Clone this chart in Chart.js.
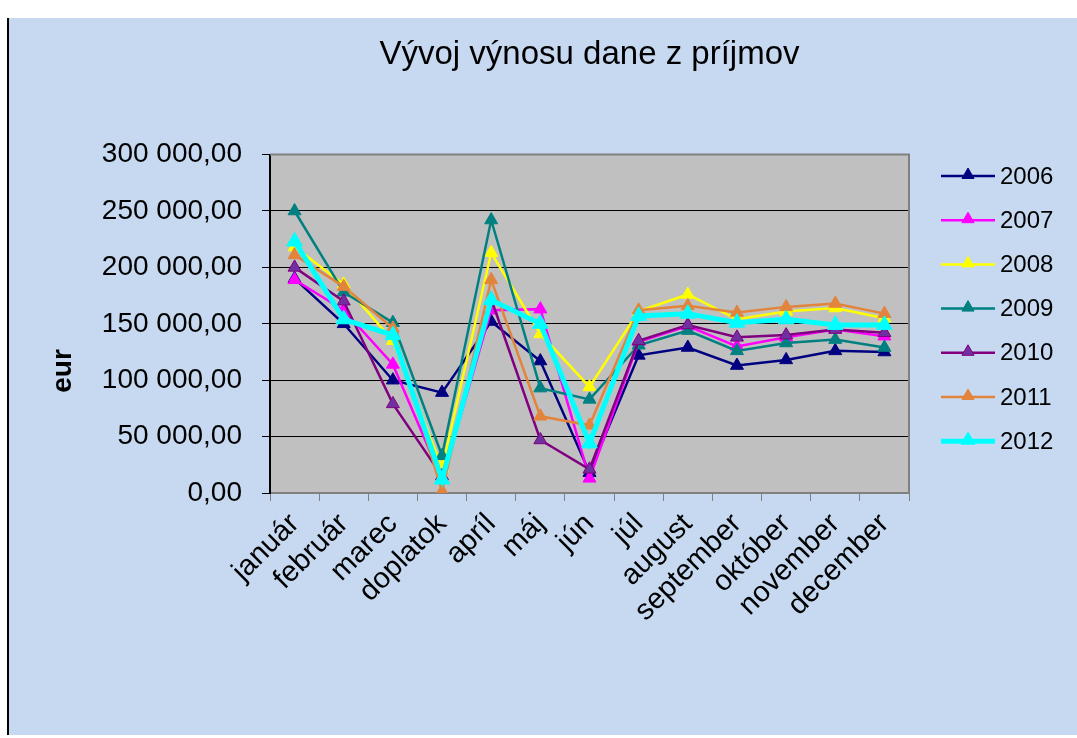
<!DOCTYPE html>
<html>
<head>
<meta charset="utf-8">
<script src="https://cdn.jsdelivr.net/npm/chart.js@4/dist/chart.umd.min.js"></script>
<style>
  html, body { margin: 0; padding: 0; background: #fff; }
  canvas { display: block; }
</style>
</head>
<body>
<canvas id="taxChart" width="1077" height="738"></canvas>
<script>
// categories and values (eur)
const months = ["január", "február", "marec", "doplatok", "apríl", "máj", "jún", "júl",
  "august", "september", "október", "november", "december"];
const years = ["2006", "2007", "2008", "2009", "2010", "2011", "2012"];

const y2006 = [190000, 150000, 100000, 89000, 152000, 117000, 18000, 122000, 129000, 113000, 118000, 126000, 125000];
const y2007 = [189000, 162000, 114000, 12000, 162000, 163000, 13000, 134000, 148000, 130000, 138000, 145000, 139000];
const y2008 = [218000, 185000, 135000, 22000, 213000, 141000, 94000, 161000, 176000, 154000, 161000, 164000, 155000];
const y2009 = [250000, 178000, 151000, 33000, 242000, 93000, 83000, 131000, 144000, 126000, 133000, 136000, 129000];
const y2010 = [200000, 170000, 79000, 15000, 172000, 47000, 21000, 135000, 149000, 138000, 140000, 145000, 142000];
const y2011 = [211000, 183000, 146000, 1500, 189000, 68000, 60000, 162000, 166000, 160000, 165000, 168000, 159000];
const y2012 = [223000, 154000, 140000, 12000, 171000, 150000, 44000, 157000, 159000, 151000, 154000, 149000, 149000];

const yTicks = [0, 50000, 100000, 150000, 200000, 250000, 300000];
const chartTitle = "Vývoj výnosu dane z príjmov";
const axisTitle = "eur";

const series = [y2006, y2007, y2008, y2009, y2010, y2011, y2012];
const lineColors = ["#000080", "#FF00FF", "#FFFF00", "#008080", "#800080", "#E3843C", "#00FFFF"];
const markerFill = ["#000080", "#FF00FF", "#FFFF00", "#008080", "#7030A0", "#E3843C", "#00FFFF"];

Chart.defaults.font.family = "'Liberation Sans', Arial, sans-serif";
Chart.defaults.color = "#000";

function fmt(v) {
  return String(v).replace(/\B(?=(\d{3})+(?!\d))/g, " ") + ",00";
}

// panel, plot background, borders, axis title and legend
const decor = {
  id: "decor",
  beforeDraw(chart) {
    const c = chart.ctx, a = chart.chartArea;
    c.save();
    c.fillStyle = "#C6D9F1";
    c.fillRect(9, 18, 1068, 717);
    c.fillStyle = "#000";
    c.fillRect(7, 18, 2, 717);
    c.fillStyle = "#C0C0C0";
    c.fillRect(a.left, a.top, a.right - a.left, a.bottom - a.top);
    c.restore();
  },
  beforeDatasetsDraw(chart) {
    const c = chart.ctx, a = chart.chartArea;
    c.save();
    c.strokeStyle = "#808080";
    c.lineWidth = 2;
    c.beginPath();
    c.moveTo(a.left, a.top);
    c.lineTo(a.right, a.top);
    c.lineTo(a.right, a.bottom);
    c.stroke();
    c.restore();
  },
  afterDraw(chart) {
    const c = chart.ctx;
    c.save();
    // y axis title
    c.translate(63, 371);
    c.rotate(-Math.PI / 2);
    c.font = "bold 28px 'Liberation Sans', Arial, sans-serif";
    c.textAlign = "center";
    c.textBaseline = "middle";
    c.fillStyle = "#000";
    c.fillText(axisTitle, 0, 0);
    c.restore();

    // legend: line + triangle + year
    chart.data.datasets.forEach((ds, i) => {
      const y = 176 + i * 44.2;
      c.save();
      c.strokeStyle = ds.borderColor;
      c.lineWidth = ds.borderWidth;
      c.beginPath();
      c.moveTo(941, y);
      c.lineTo(995, y);
      c.stroke();
      c.fillStyle = ds.pointBackgroundColor;
      c.strokeStyle = ds.pointBorderColor;
      c.lineWidth = 1;
      Chart.helpers.drawPoint(c, { pointStyle: "triangle", radius: i === 6 ? 8 : 7, rotation: 0, borderWidth: 1 }, 968, y - 1);
      c.fillStyle = "#000";
      c.font = "24px 'Liberation Sans', Arial, sans-serif";
      c.textBaseline = "middle";
      c.fillText(ds.label, 1000, y + 1);
      c.restore();
    });
  }
};

const ctx = document.getElementById("taxChart").getContext("2d");
const taxChart = new Chart(ctx, {
  type: "line",
  data: {
    labels: months,
    datasets: years.map((yr, i) => ({
      label: yr,
      data: series[i],
      borderColor: lineColors[i],
      borderWidth: i === 6 ? 5 : 2.5,
      pointStyle: "triangle",
      pointRadius: i === 6 ? 9 : 7.5,
      pointBackgroundColor: markerFill[i],
      pointBorderColor: lineColors[i],
      pointBorderWidth: 1,
      tension: 0,
      fill: false,
      order: 6 - i,
    })),
  },
  options: {
    responsive: false,
    animation: false,
    devicePixelRatio: 1,
    layout: { padding: { left: 0, right: 168, top: 0, bottom: 0 } },
    plugins: {
      legend: { display: false },
      tooltip: { enabled: false },
      title: {
        display: true,
        text: chartTitle,
        fullSize: false,
        color: "#000",
        font: { size: 33, weight: "normal" },
        padding: { top: 35, bottom: 80 },
      },
    },
    scales: {
      x: {
        offset: true,
        afterFit(scale) { scale.height = 245; },
        grid: {
          offset: true,
          drawOnChartArea: false,
          tickLength: 8,
          tickColor: "#808080",
        },
        border: { color: "#808080", width: 2 },
        ticks: {
          autoSkip: false,
          minRotation: 45,
          maxRotation: 45,
          padding: 6,
          color: "#000",
          font: { size: 29 },
        },
      },
      y: {
        min: 0,
        max: 300000,
        afterFit(scale) { scale.width = 270; },
        afterBuildTicks(scale) { scale.ticks = yTicks.map(v => ({ value: v })); },
        grid: {
          color: (c) => (c.tick && (c.tick.value === 0 || c.tick.value === 300000)) ? "rgba(0,0,0,0)" : "#000",
          tickColor: "#000",
          tickLength: 8,
          lineWidth: 1,
        },
        border: { color: "#000", width: 2 },
        ticks: {
          padding: 20,
          color: "#000",
          font: { size: 28 },
          callback: (v) => fmt(v),
        },
      },
    },
  },
  plugins: [decor],
});
</script>
</body>
</html>
